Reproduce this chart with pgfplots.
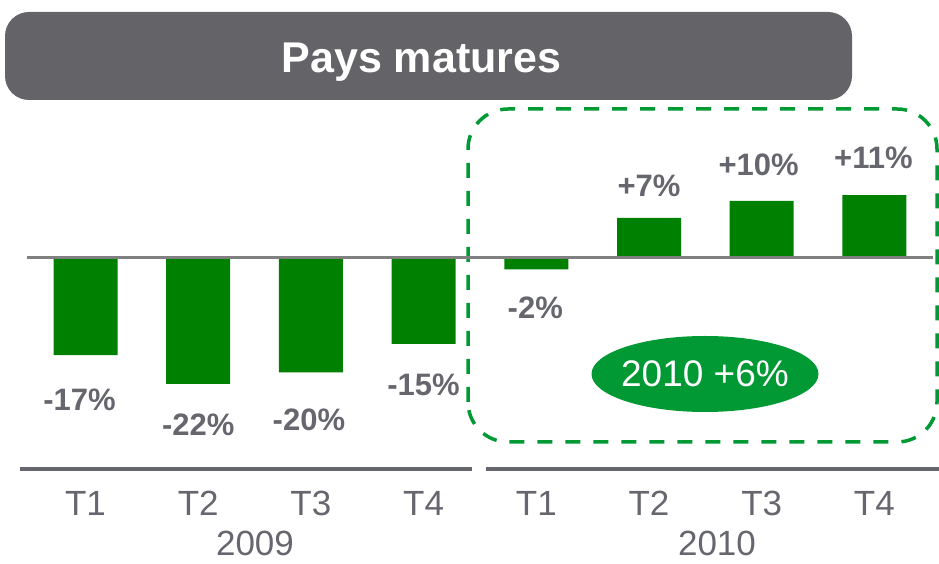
\documentclass[border=0pt]{standalone}
\usepackage{pgfplots}
\pgfplotsset{compat=1.18}
\usepackage{fontspec}
\setmainfont{Liberation Sans}
\definecolor{textgray}{RGB}{102,102,110}
\definecolor{boxgray}{RGB}{99,99,104}
\definecolor{linegray}{RGB}{128,128,128}
\definecolor{bargreen}{RGB}{0,128,0}
\definecolor{lightgreen}{RGB}{0,153,51}
\begin{document}
\begin{tikzpicture}[x=1pt,y=1pt]
\useasboundingbox (0,0) rectangle (939,564);
% title box
\fill[boxgray, rounded corners=24pt] (5,464) rectangle (852,552);
\node[anchor=base, text=white, font=\fontsize{43}{43}\selectfont\bfseries] at (421.5,491.7) {Pays matures};
% dashed 2010 frame
\draw[lightgreen, line width=3.5pt, dash pattern=on 15pt off 13pt, rounded corners=40pt] (468,122) rectangle (937,455);
% bottom separators
\draw[textgray, line width=4pt] (20,95) -- (472,95);
\draw[textgray, line width=4pt] (486,95) -- (939,95);
% years
\node[anchor=base, inner sep=0pt, text=textgray, font=\fontsize{35}{35}\selectfont] at (255,8) {2009};
\node[anchor=base, inner sep=0pt, text=textgray, font=\fontsize{35}{35}\selectfont] at (717,8) {2010};
% ellipse
\fill[lightgreen] (705,190) ellipse [x radius=113.5pt, y radius=38pt];
\node[text=white, font=\fontsize{37}{37}\selectfont] at (705,190) {2010 +6\%};
\begin{axis}[
  at={(29.15pt,163pt)}, anchor=south west,
  scale only axis, width=901.6pt, height=228.8pt,
  xmin=-0.5, xmax=7.5, ymin=-25, ymax=15,
  clip=false,
  axis line style={draw=none},
  tick style={draw=none},
  ytick=\empty,
  xtick={0,1,2,3,4,5,6,7},
  xticklabels={T1,T2,T3,T4,T1,T2,T3,T4},
  xticklabel style={anchor=base, yshift=-114.7pt, text=textgray, font=\fontsize{35}{35}\selectfont},
]
\addplot[ybar, bar width=64pt, fill=bargreen, draw=none] coordinates {
  (0,-17) (1,-22) (2,-20) (3,-15) (4,-2) (5,7) (6,10) (7,11)
};
\draw[linegray, line width=3pt] (axis cs:-0.519,0) -- (axis cs:7.52,0);
\begin{scope}[every node/.style={text=textgray, font=\fontsize{31}{31}\selectfont\bfseries}]
\node[xshift=-6pt, yshift=-44.8pt] at (axis cs:0,-17) {-17\%};
\node[yshift=-41pt] at (axis cs:1,-22) {-22\%};
\node[xshift=-2pt, yshift=-47.6pt] at (axis cs:2,-20) {-20\%};
\node[yshift=-41pt] at (axis cs:3,-15) {-15\%};
\node[xshift=-1pt, yshift=-38.6pt] at (axis cs:4,-2) {-2\%};
\node[yshift=32pt] at (axis cs:5,7) {+7\%};
\node[xshift=-3pt, yshift=36pt] at (axis cs:6,10) {+10\%};
\node[xshift=-1pt, yshift=37pt] at (axis cs:7,11) {+11\%};
\end{scope}
\end{axis}
\end{tikzpicture}
\end{document}
